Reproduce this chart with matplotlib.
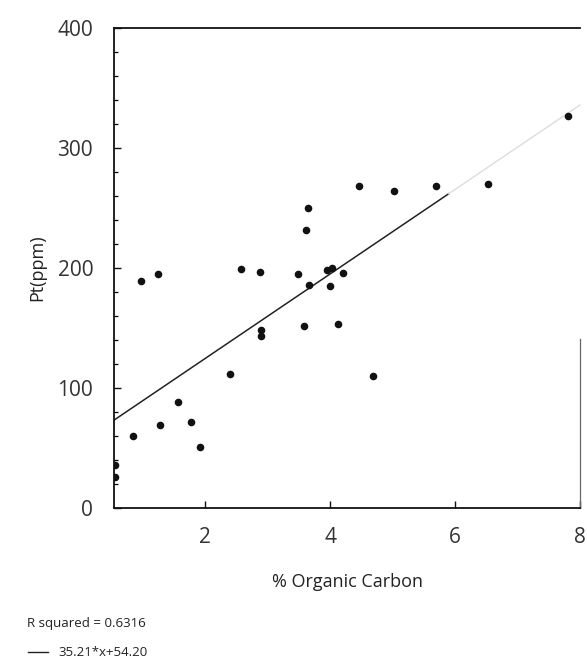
import matplotlib
matplotlib.use("Agg")
import matplotlib.pyplot as plt
import numpy as np

# % Organic Carbon vs Pt (ppm)
organic_carbon = [0.55, 0.55, 0.84, 0.97, 1.25, 1.28, 1.57, 1.77, 1.91, 2.40,
                  2.58, 2.87, 2.89, 2.89, 3.49, 3.58, 3.61, 3.64, 3.66, 3.95,
                  4.03, 3.99, 4.21, 4.12, 4.46, 4.69, 5.02, 5.69, 6.53, 7.80]
pt_ppm = [36, 26, 60, 189, 195, 69, 88, 72, 51, 112,
          199, 197, 148, 143, 195, 152, 232, 250, 186, 198,
          200, 185, 196, 153, 268, 110, 264, 268, 270, 327]

slope = 35.21
intercept = 54.20
r_squared = 0.6316

x_ticks = [2, 4, 6, 8]
y_ticks = [0, 100, 200, 300, 400]

plt.rcParams['font.family'] = ['Open Sans', 'DejaVu Sans']

fig = plt.figure(figsize=(5.87, 6.68), dpi=100)
ax = fig.add_axes([114/587, 1 - 508/668, (580-114)/587, (508-28)/668])

xmin, xmax = 0.54, 8.0
ax.set_xlim(xmin, xmax)
ax.set_ylim(0, 400)

ax.scatter(organic_carbon, pt_ppm, marker='o', s=30, color='#111111',
           linewidths=0, zorder=3)

# regression line: solid part, then faint part as in the scan
xs1 = np.array([xmin, 5.9])
xs2 = np.array([5.9, xmax])
ax.plot(xs1, slope * xs1 + intercept, color='#222222', lw=1.1, zorder=2)
ax.plot(xs2, slope * xs2 + intercept, color='#dddddd', lw=1.0, zorder=2,
        clip_on=False)

ax.set_xticks(x_ticks)
ax.set_yticks(y_ticks)
ax.set_yticks(np.arange(0, 401, 20), minor=True)
ax.tick_params(axis='both', which='major', direction='in', length=5,
               width=1.0, labelsize=15, colors='#111111', labelcolor='#333333')
ax.tick_params(axis='y', which='minor', direction='in', length=3, width=0.9)
ax.tick_params(axis='x', pad=14)
ax.tick_params(axis='y', pad=15)

for s in ['left', 'bottom', 'top']:
    ax.spines[s].set_linewidth(1.3)
    ax.spines[s].set_color('#111111')
ax.spines['right'].set_linewidth(0.9)
ax.spines['right'].set_color('#666666')
ax.spines['right'].set_bounds(0, 141)

ax.set_xlabel('% Organic Carbon', fontsize=13, labelpad=18, color='#222222')
ax.set_ylabel('Pt(ppm)', fontsize=13, labelpad=8, color='#222222')

fig.text(27/587, 1 - 624/668, f'R squared = {r_squared}', fontsize=9.5,
         va='center', ha='left', color='#222222')
fig.lines.append(plt.Line2D([28/587, 48/587], [1 - 652/668, 1 - 652/668],
                            transform=fig.transFigure, color='#222222', lw=1))
fig.text(58/587, 1 - 652/668, f'{slope}*x+{intercept:.2f}', fontsize=9.5,
         va='center', ha='left', color='#222222')

fig.savefig('out.png', dpi=100, facecolor='white')
